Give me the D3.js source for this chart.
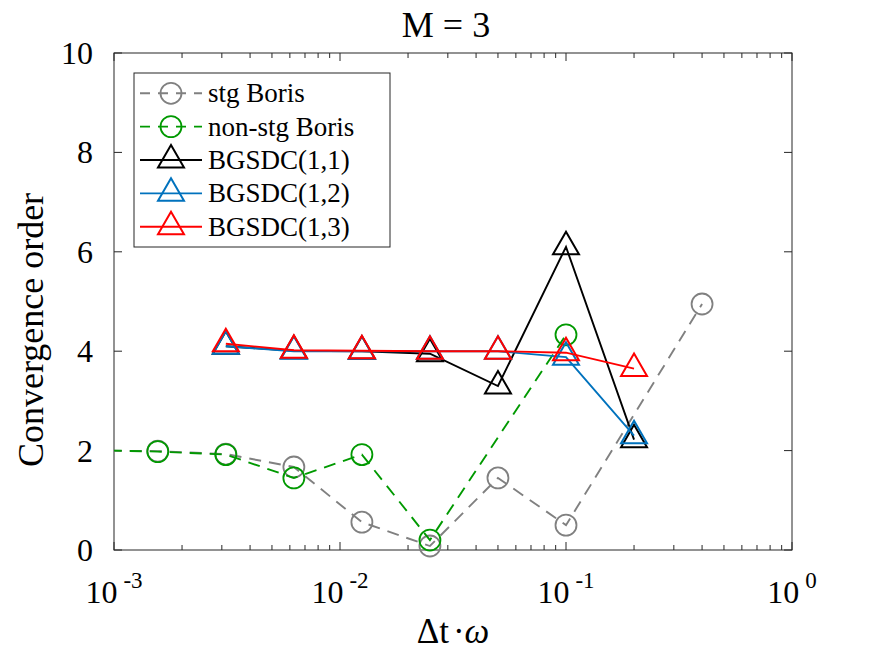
<!DOCTYPE html>
<html>
<head>
<meta charset="utf-8">
<script src="https://cdn.jsdelivr.net/npm/d3@7"></script>
<style>
  html, body { margin: 0; padding: 0; background: #fff; }
  svg { display: block; }
  text { font-family: "Liberation Serif", "Times New Roman", serif; fill: #000; }
</style>
</head>
<body>
<svg id="chart" width="875" height="657"></svg>
<script>
// ---- data ----
const stgX   = [0.00078125, 0.0015625, 0.003125, 0.00625, 0.0125, 0.025, 0.05, 0.1, 0.4];
const stgY   = [2.00, 1.99, 1.93, 1.67, 0.56, 0.08, 1.45, 0.50, 4.95];
const nonX   = [0.00078125, 0.0015625, 0.003125, 0.00625, 0.0125, 0.025, 0.1];
const nonY   = [2.01, 1.98, 1.92, 1.45, 1.92, 0.20, 4.33];
const bgX    = [0.003125, 0.00625, 0.0125, 0.025, 0.05, 0.1, 0.2];
const bg11Y  = [4.10, 4.01, 4.00, 3.95, 3.30, 6.10, 2.22];
const bg12Y  = [4.10, 4.00, 4.00, 4.00, 4.00, 3.88, 2.30];
const bg13Y  = [4.15, 4.02, 4.01, 4.00, 4.00, 3.97, 3.65];
const seriesNames = ["stg Boris", "non-stg Boris", "BGSDC(1,1)", "BGSDC(1,2)", "BGSDC(1,3)"];
const yTicks = [0, 2, 4, 6, 8, 10];
const xTickExps = [-3, -2, -1, 0];
const titleText = "M = 3";
const yLabelText = "Convergence order";

// ---- layout ----
const svg = d3.select("#chart");
const L = 114, R = 792, T = 53, B = 550;
const x = d3.scaleLog().domain([1e-3, 1]).range([L, R]);
const y = d3.scaleLinear().domain([0, 10]).range([B, T]);

const series = [
  { name: seriesNames[0], xs: stgX, ys: stgY, color: "#808080", dash: "12,8", marker: "circle" },
  { name: seriesNames[1], xs: nonX, ys: nonY, color: "#009900", dash: "12,8", marker: "circle" },
  { name: seriesNames[2], xs: bgX, ys: bg11Y, color: "#000000", dash: null, marker: "tri" },
  { name: seriesNames[3], xs: bgX, ys: bg12Y, color: "#0072BD", dash: null, marker: "tri" },
  { name: seriesNames[4], xs: bgX, ys: bg13Y, color: "#FF0000", dash: null, marker: "tri" }
];

svg.append("defs").append("clipPath").attr("id", "plotclip")
  .append("rect").attr("x", L).attr("y", T).attr("width", R - L).attr("height", B - T);

// ---- axes box & ticks ----
const axisColor = "#262626";
const ax = svg.append("g");
const minor = [];
for (let e = -3; e < 0; e++) for (let m = 2; m <= 9; m++) minor.push(m * Math.pow(10, e));
minor.forEach(v => {
  ax.append("line").attr("x1", x(v)).attr("x2", x(v)).attr("y1", B).attr("y2", B - 5).attr("stroke", axisColor);
  ax.append("line").attr("x1", x(v)).attr("x2", x(v)).attr("y1", T).attr("y2", T + 5).attr("stroke", axisColor);
});
xTickExps.forEach(e => {
  const v = Math.pow(10, e);
  ax.append("line").attr("x1", x(v)).attr("x2", x(v)).attr("y1", B).attr("y2", B - 8).attr("stroke", axisColor);
  ax.append("line").attr("x1", x(v)).attr("x2", x(v)).attr("y1", T).attr("y2", T + 8).attr("stroke", axisColor);
  const t = ax.append("text").attr("x", x(v)).attr("y", 603).attr("text-anchor", "middle").style("font-size", "32px");
  t.append("tspan").text("10");
  t.append("tspan").attr("dx", 6).attr("dy", -15).style("font-size", "23px").text(String(e));
});
yTicks.forEach(v => {
  ax.append("line").attr("x1", L).attr("x2", L + 8).attr("y1", y(v)).attr("y2", y(v)).attr("stroke", axisColor);
  ax.append("line").attr("x1", R).attr("x2", R - 8).attr("y1", y(v)).attr("y2", y(v)).attr("stroke", axisColor);
  ax.append("text").attr("x", 93).attr("y", y(v) + 11).attr("text-anchor", "end").style("font-size", "32px").text(v);
});
ax.append("rect").attr("x", L).attr("y", T).attr("width", R - L).attr("height", B - T)
  .attr("fill", "none").attr("stroke", axisColor).attr("stroke-width", 1);

// ---- series ----
const line = d3.line().x(d => x(d[0])).y(d => y(d[1]));
const triPath = (cx, cy, r) => {
  const h = r * Math.sqrt(3) / 2;
  return `M${cx},${cy - r}L${cx + h},${cy + r / 2}L${cx - h},${cy + r / 2}Z`;
};
function drawMarker(g, s, cx, cy) {
  if (s.marker === "circle") {
    g.append("circle").attr("cx", cx).attr("cy", cy).attr("r", 10.5)
      .attr("fill", "none").attr("stroke", s.color).attr("stroke-width", 1.8);
  } else {
    g.append("path").attr("d", triPath(cx, cy, 15))
      .attr("fill", "none").attr("stroke", s.color).attr("stroke-width", 2);
  }
}
series.forEach(s => {
  const pts = s.xs.map((v, i) => [v, s.ys[i]]);
  const g = svg.append("g");
  g.append("path").attr("d", line(pts)).attr("clip-path", "url(#plotclip)")
    .attr("fill", "none").attr("stroke", s.color).attr("stroke-width", 1.9)
    .attr("stroke-dasharray", s.dash);
  pts.filter(p => p[0] >= 1e-3 && p[0] <= 1).forEach(p => drawMarker(g, s, x(p[0]), y(p[1])));
});

// ---- legend ----
const lg = svg.append("g");
lg.append("rect").attr("x", 134).attr("y", 73).attr("width", 256).attr("height", 174)
  .attr("fill", "#fff").attr("stroke", axisColor).attr("stroke-width", 1);
series.forEach((s, i) => {
  const cy = 93.3 + i * 33.35;
  lg.append("line").attr("x1", 140).attr("x2", 202).attr("y1", cy).attr("y2", cy)
    .attr("stroke", s.color).attr("stroke-width", 1.9).attr("stroke-dasharray", s.dash ? "10,8" : null);
  drawMarker(lg, s, 171, cy);
  lg.append("text").attr("x", 208).attr("y", cy + 9).style("font-size", "27px").text(s.name);
});

// ---- labels ----
svg.append("text").attr("x", 446).attr("y", 37).attr("text-anchor", "middle").style("font-size", "36px").text(titleText);
const xl = svg.append("text").attr("x", 453).attr("y", 643).attr("text-anchor", "middle").style("font-size", "35px");
xl.append("tspan").text("Δt");
xl.append("tspan").attr("dx", 4).text("·");
xl.append("tspan").style("font-style", "italic").text("ω");
svg.append("text").attr("transform", "translate(43,330) rotate(-90)").attr("text-anchor", "middle")
  .style("font-size", "36px").text(yLabelText);
</script>
</body>
</html>
